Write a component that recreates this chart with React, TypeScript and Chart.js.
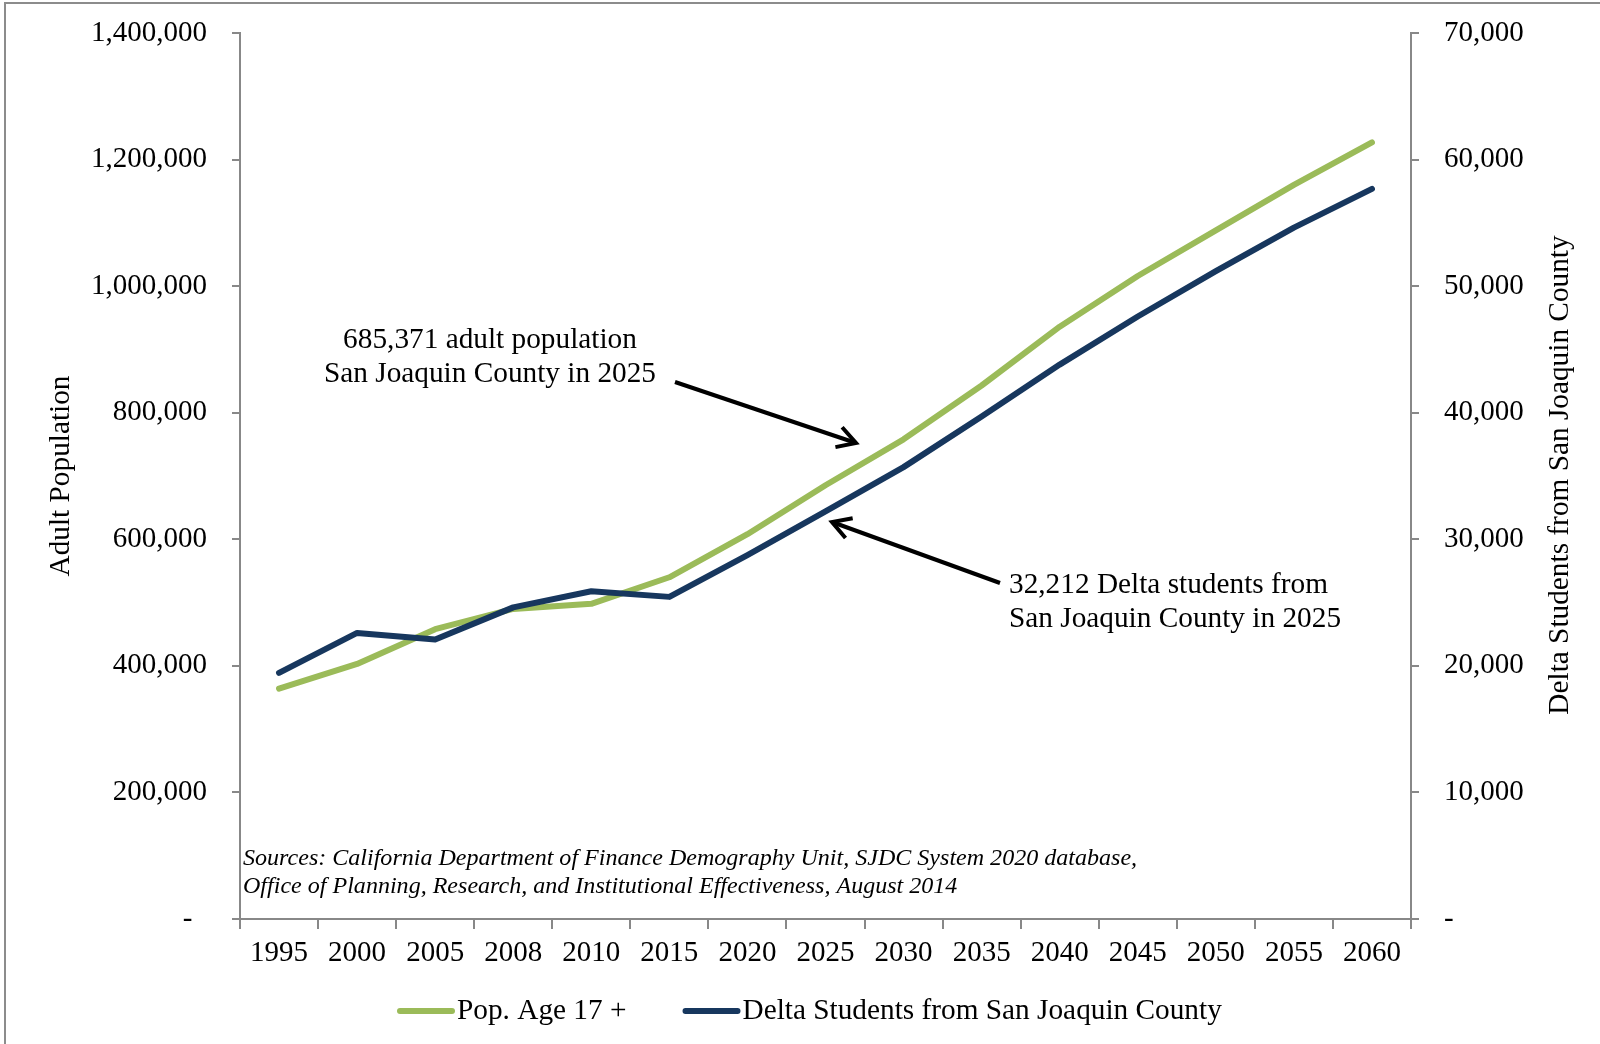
import React, { useEffect, useRef } from 'react';
import { Chart, registerables } from 'chart.js';

Chart.register(...registerables);

const years = ['1995', '2000', '2005', '2008', '2010', '2015', '2020', '2025', '2030', '2035', '2040', '2045', '2050', '2055', '2060'];
const adultPopulation = [364000, 403000, 458000, 490000, 498000, 540000, 608000, 685371, 758000, 843000, 936000, 1016000, 1088000, 1160000, 1227000];
const deltaStudents = [19450, 22600, 22080, 24620, 25890, 25450, 28750, 32212, 35700, 39700, 43800, 47600, 51180, 54620, 57680];

const seriesLabels = ['Pop. Age 17 +', 'Delta Students from San Joaquin County'];
const leftAxisTitle = 'Adult Population';
const rightAxisTitle = 'Delta Students from San Joaquin County';
const annotationPop = ['685,371 adult population', 'San Joaquin County in 2025'];
const annotationDelta = ['32,212 Delta students from', 'San Joaquin County in 2025'];
const sourceLines = [
  'Sources: California Department of Finance Demography Unit, SJDC System 2020 database,',
  'Office of Planning, Research, and Institutional Effectiveness, August 2014',
];

const FONT = '"Liberation Serif", "Times New Roman", Times, serif';
const FS = 29.3;
const TICK_FS = 29;
const GRAY = '#888888';
const GREEN = '#9BBB59';
const NAVY = '#17375E';

function drawArrow(ctx: CanvasRenderingContext2D, x1: number, y1: number, x2: number, y2: number) {
  const ang = Math.atan2(y2 - y1, x2 - x1);
  const head = 21;
  const spread = Math.PI / 6;
  ctx.beginPath();
  ctx.moveTo(x1, y1);
  ctx.lineTo(x2, y2);
  ctx.stroke();
  ctx.beginPath();
  ctx.moveTo(x2 - head * Math.cos(ang - spread), y2 - head * Math.sin(ang - spread));
  ctx.lineTo(x2, y2);
  ctx.lineTo(x2 - head * Math.cos(ang + spread), y2 - head * Math.sin(ang + spread));
  ctx.stroke();
}

const overlayPlugin = {
  id: 'overlay',
  afterDraw(chart: any) {
    const ctx: CanvasRenderingContext2D = chart.ctx;
    ctx.save();

    // outer frame (top and left)
    ctx.strokeStyle = '#8c8c8c';
    ctx.lineWidth = 2;
    ctx.beginPath();
    ctx.moveTo(5, 1044);
    ctx.lineTo(5, 3);
    ctx.lineTo(1600, 3);
    ctx.stroke();

    ctx.fillStyle = '#000';

    // right axis title (reads bottom to top)
    ctx.save();
    ctx.translate(1560, 475);
    ctx.rotate(-Math.PI / 2);
    ctx.font = `${FS}px ${FONT}`;
    ctx.textAlign = 'center';
    ctx.textBaseline = 'middle';
    ctx.fillText(rightAxisTitle, 0, 0);
    ctx.restore();

    // annotations
    ctx.font = `${FS}px ${FONT}`;
    ctx.textBaseline = 'middle';
    ctx.textAlign = 'center';
    ctx.fillText(annotationPop[0], 490, 340);
    ctx.fillText(annotationPop[1], 490, 374);
    ctx.textAlign = 'left';
    ctx.fillText(annotationDelta[0], 1009, 585);
    ctx.fillText(annotationDelta[1], 1009, 619);

    ctx.strokeStyle = '#000';
    ctx.lineWidth = 4;
    ctx.lineCap = 'butt';
    ctx.lineJoin = 'miter';
    drawArrow(ctx, 675, 382, 856, 443);
    drawArrow(ctx, 1000, 583, 832, 522);

    // sources
    ctx.textAlign = 'left';
    ctx.textBaseline = 'alphabetic';
    ctx.font = `italic 24px ${FONT}`;
    const w = ctx.measureText(sourceLines[0]).width;
    const size = (24 * 894) / w;
    ctx.font = `italic ${size.toFixed(2)}px ${FONT}`;
    ctx.fillText(sourceLines[0], 243, 865);
    ctx.fillText(sourceLines[1], 243, 893);

    // legend
    ctx.font = `${FS}px ${FONT}`;
    ctx.textBaseline = 'middle';
    let x = 400;
    const y = 1011;
    chart.data.datasets.forEach((ds: any) => {
      ctx.strokeStyle = ds.borderColor;
      ctx.lineWidth = 6;
      ctx.lineCap = 'round';
      ctx.beginPath();
      ctx.moveTo(x, y);
      ctx.lineTo(x + 52, y);
      ctx.stroke();
      ctx.fillStyle = '#000';
      ctx.fillText(ds.label, x + 57, y);
      x += 57 + ctx.measureText(ds.label).width + 59;
    });

    ctx.restore();
  },
};

export default function App() {
  const ref = useRef<HTMLCanvasElement | null>(null);

  useEffect(() => {
    document.body.style.margin = '0';
    const canvas = ref.current;
    if (!canvas) return;
    const chart = new Chart(canvas, {
      type: 'line',
      data: {
        labels: years,
        datasets: [
          {
            label: seriesLabels[0],
            data: adultPopulation,
            yAxisID: 'yLeft',
            borderColor: GREEN,
            backgroundColor: GREEN,
            borderWidth: 6,
            borderCapStyle: 'round',
            borderJoinStyle: 'round',
            pointRadius: 0,
            tension: 0,
            order: 1,
          },
          {
            label: seriesLabels[1],
            data: deltaStudents,
            yAxisID: 'yRight',
            borderColor: NAVY,
            backgroundColor: NAVY,
            borderWidth: 6,
            borderCapStyle: 'round',
            borderJoinStyle: 'round',
            pointRadius: 0,
            tension: 0,
            order: 0,
          },
        ],
      },
      options: {
        responsive: false,
        animation: false,
        devicePixelRatio: 1,
        layout: { padding: { top: 33, bottom: 65, left: 0, right: 0 } },
        plugins: {
          legend: { display: false },
          tooltip: { enabled: false },
          title: { display: false },
        },
        scales: {
          x: {
            type: 'category',
            offset: true,
            grid: {
              offset: true,
              drawOnChartArea: false,
              drawTicks: true,
              tickLength: 10,
              color: GRAY,
              lineWidth: 2,
            },
            border: { display: true, color: GRAY, width: 2 },
            ticks: {
              color: '#000',
              font: { family: FONT, size: TICK_FS },
              padding: 7,
              maxRotation: 0,
              autoSkip: false,
            },
            afterFit: (scale: any) => {
              scale.height = 60;
            },
          },
          yLeft: {
            type: 'linear',
            position: 'left',
            min: 0,
            max: 1400000,
            grid: { drawOnChartArea: false, tickLength: 8, color: GRAY, lineWidth: 2 },
            border: { display: true, color: GRAY, width: 2 },
            ticks: {
              stepSize: 200000,
              color: '#000',
              font: { family: FONT, size: TICK_FS },
              padding: 25,
              callback: (v: any) => (Number(v) === 0 ? '-  ' : Number(v).toLocaleString('en-US')),
            },
            title: {
              display: true,
              text: leftAxisTitle,
              color: '#000',
              font: { family: FONT, size: FS },
              padding: { top: 44, bottom: 0 },
            },
            afterFit: (scale: any) => {
              scale.width = 240;
              scale.paddingTop = 17;
              scale.paddingBottom = 17;
            },
          },
          yRight: {
            type: 'linear',
            position: 'right',
            min: 0,
            max: 70000,
            grid: { drawOnChartArea: false, tickLength: 8, color: GRAY, lineWidth: 2 },
            border: { display: true, color: GRAY, width: 2 },
            ticks: {
              stepSize: 10000,
              color: '#000',
              font: { family: FONT, size: TICK_FS },
              padding: 25,
              callback: (v: any) => (Number(v) === 0 ? '-' : Number(v).toLocaleString('en-US')),
            },
            afterFit: (scale: any) => {
              scale.width = 189;
              scale.paddingTop = 17;
              scale.paddingBottom = 17;
            },
          },
        },
      },
      plugins: [overlayPlugin],
    } as any);
    return () => chart.destroy();
  }, []);

  return (
    <div style={{ width: 1600, height: 1044, background: '#fff' }}>
      <canvas ref={ref} width={1600} height={1044} style={{ display: 'block' }} />
    </div>
  );
}
